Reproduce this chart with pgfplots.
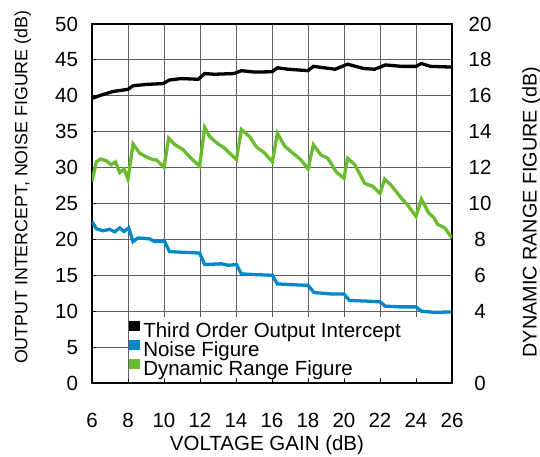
\documentclass[border=0pt]{standalone}
\usepackage{fontspec}
\setmainfont{Liberation Sans}
\usepackage{pgfplots}
\pgfplotsset{compat=1.18}
\definecolor{nfblue}{RGB}{0,137,200}
\definecolor{drgreen}{RGB}{105,188,45}
\definecolor{gridgray}{RGB}{95,95,95}
\begin{document}
\fontsize{20.5bp}{22bp}\selectfont
\begin{tikzpicture}
\useasboundingbox (-92bp,-74bp) rectangle (448bp,383bp);
\pgfplotsset{
  every axis/.append style={font=\fontsize{20.5bp}{22bp}\selectfont},
  /pgf/number format/assume math mode=true,
}
\begin{axis}[
  scale only axis, width=360bp, height=359bp,
  xmin=6, xmax=26, ymin=0, ymax=50,
  xtick={6,8,...,26}, ytick={0,5,...,50},
  grid=major, major grid style={gridgray, line width=0.9bp},
  axis line style={line width=2bp},
  tick style={black, line width=0.8bp}, major tick length=4bp,
  tick align=inside, xtick pos=left, ytick pos=left,
  xticklabel shift=23bp, yticklabel shift=7bp,
  xlabel={VOLTAGE GAIN (dB)},
  xlabel style={at={(axis description cs:0.486,-0.173)}, anchor=center},
  ylabel={OUTPUT INTERCEPT, NOISE FIGURE (dB)},
  ylabel style={at={(axis description cs:-0.192,0.545)}, anchor=center,
    font=\fontsize{17.8bp}{20bp}\selectfont},
  legend cell align=left,
  legend image code/.code={\fill[#1,draw=none] (0bp,0bp) rectangle (11bp,10bp);},
  legend style={draw=none, fill=none, inner sep=0pt, at={(rel axis cs:0.103,0.172)}, anchor=north west,
    nodes={inner sep=0pt, inner xsep=3bp}, row sep=0bp},
]
\fill[white] (axis cs:8.05,0.65) rectangle (axis cs:25.93,9.2);
\addplot[black, line width=3.3bp] coordinates {
(6,39.65) (6.52,40.1) (7.17,40.6) (8,40.9) (8.28,41.4) (9.1,41.6) (9.94,41.7)
(10.3,42.2) (10.96,42.4) (11.9,42.3) (12.26,43.1) (12.8,43.0) (13.9,43.1)
(14.3,43.5) (15.04,43.3) (16.0,43.35) (16.3,43.9) (16.9,43.7) (18,43.5)
(18.3,44.1) (19.5,43.7) (20.2,44.4) (21.1,43.8) (21.7,43.7) (22.3,44.3)
(23.2,44.1) (24,44.1) (24.3,44.5) (24.8,44.1) (26,44.0)
};
\addplot[nfblue, line width=3.3bp] coordinates {
(6,22.5) (6.24,21.5) (6.6,21.2) (6.98,21.4) (7.26,21.05) (7.54,21.6) (7.78,21.1)
(8.04,21.6) (8.28,19.7) (8.56,20.2) (9.2,20.07) (9.48,19.7) (10.04,19.7)
(10.3,18.3) (11.1,18.2) (11.98,18.1) (12.26,16.5) (13.2,16.6) (13.57,16.4)
(14.02,16.5) (14.3,15.2) (15.04,15.1) (16.02,15.0) (16.3,13.8) (17.07,13.7)
(18,13.6) (18.33,12.6) (19.3,12.4) (20,12.4) (20.3,11.5) (21.3,11.4) (22,11.3)
(22.3,10.7) (23.1,10.6) (24,10.6) (24.3,10.0) (25,9.84) (26,9.9)
};
\addlegendimage{drgreen, line width=3.3bp}
\legend{Third Order Output Intercept, Noise Figure, Dynamic Range Figure}
\end{axis}
\begin{axis}[
  scale only axis, width=360bp, height=359bp,
  xmin=6, xmax=26, ymin=0, ymax=20,
  axis x line=none, axis y line*=right,
  axis line style={line width=2bp},
  ytick={0,4,6,...,20}, major tick length=0bp,
  yticklabel style={anchor=center, xshift=28bp},
  ylabel={DYNAMIC RANGE FIGURE (dB)},
  ylabel style={at={(axis description cs:1.221,0.476)}, anchor=center,
    font=\fontsize{19.8bp}{22bp}\selectfont},
]
\addplot[drgreen, line width=3.3bp] coordinates {
(6,11.22) (6.24,12.32) (6.48,12.48) (6.8,12.38) (7.07,12.16) (7.3,12.32)
(7.54,11.72) (7.78,11.92) (8.0,11.36) (8.28,13.32) (8.65,12.8) (9.02,12.6)
(9.39,12.44) (9.57,12.44) (10.0,12.02) (10.26,13.64) (10.6,13.28) (11.06,13.0)
(11.5,12.52) (11.98,12.08) (12.26,14.24) (12.54,13.72) (13.0,13.32) (13.37,13.08)
(14.02,12.44) (14.3,14.12) (14.76,13.72) (15.13,13.16) (15.6,12.8) (16.02,12.32)
(16.3,13.92) (16.7,13.2) (17.26,12.72) (17.6,12.44) (18.0,11.92) (18.3,13.28)
(18.7,12.72) (19.1,12.52) (19.57,11.76) (20.0,11.4) (20.2,12.52) (20.6,12.16)
(21.15,11.12) (21.6,10.96) (22.0,10.56) (22.26,11.36) (22.6,11.04) (23.2,10.28)
(23.5,9.96) (24.0,9.28) (24.3,10.24) (24.7,9.48) (25.0,9.2) (25.2,8.84)
(25.6,8.64) (26.0,8.08)
};
\end{axis}
\end{tikzpicture}
\end{document}
